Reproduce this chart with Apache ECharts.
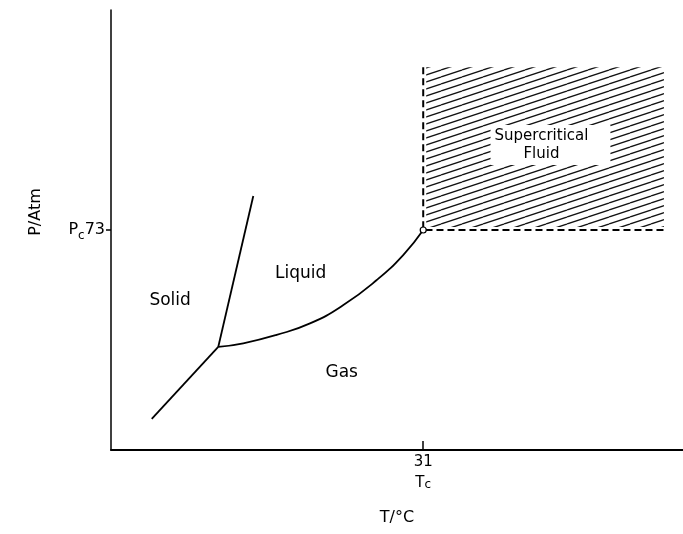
<!DOCTYPE html>
<html>
<head>
<meta charset="utf-8">
<script src="https://cdn.jsdelivr.net/npm/echarts@6.0.0/dist/echarts.min.js"></script>
<style>
html,body{margin:0;padding:0;background:#fff;}
#chart{width:683px;height:534px;}
</style>
</head>
<body>
<div id="chart"></div>
<script>
// ---- data (T in °C, P in atm, schematic) ----
const sublimationT = [-82.9, -55.0];
const sublimationP = [10.3, 34.2];
const meltingT = [-55.0, -40.3];
const meltingP = [34.2, 84.3];
const vaporT = [-55.0, -44.5, -30.5, -16.5, -2.5, 11.5, 22.6, 31];
const vaporP = [34.2, 35.4, 38.2, 42.0, 48.1, 56.4, 64.7, 73];
const criticalT = [31];
const criticalP = [73];
const supercritT = [31, 132];
const supercritP = [73, 127];
const regionNames = ['Solid', 'Liquid', 'Gas', 'Supercritical\nFluid'];
const regionT = [-75.2, -20.4, -3.2, 84.4];
const regionP = [49.5, 58.6, 25.6, 101.2];
const xTickValues = [31];
const xTickLabels = ['31'];
const xTickSymbols = [['T', 'c']];
const yTickValues = [73];
const yTickLabels = ['73'];
const yTickSymbols = [['P', 'c']];
const xName = 'T/°C';
const yName = 'P/Atm';

const zip = (a, b) => a.map((v, i) => [v, b[i]]);

// hatch pattern tile
const tile = document.createElement('canvas');
tile.width = 21; tile.height = 7;
(function(){
  const ctx = tile.getContext('2d');
  ctx.strokeStyle = '#111';
  ctx.lineWidth = 1.3;
  [-7, 0, 7].forEach(off => {
    ctx.beginPath();
    ctx.moveTo(0, 7 + off);
    ctx.lineTo(21, 0 + off);
    ctx.stroke();
  });
})();

const FONT = 'DejaVu Sans';
const chart = echarts.init(document.getElementById('chart'), null, {renderer: 'canvas'});

const lineStyleBase = {color: '#000', width: 1.8};

chart.setOption({
  animation: false,
  backgroundColor: '#fff',
  textStyle: {fontFamily: FONT, color: '#000'},
  grid: {left: 111, right: 0, top: 10, bottom: 84},
  xAxis: {
    type: 'value', min: -100, max: 140,
    splitLine: {show: false},
    axisLine: {onZero: false, lineStyle: {color: '#000', width: 2}},
    axisTick: {inside: true, length: 9, customValues: xTickValues, lineStyle: {color: '#000', width: 1.5}},
    axisLabel: {
      customValues: xTickValues, margin: 4, color: '#000', fontFamily: FONT,
      formatter: v => {
        const i = xTickValues.indexOf(v);
        return '{n|' + xTickLabels[i] + '}\n{t|' + xTickSymbols[i][0] + '}{s|' + xTickSymbols[i][1] + '}';
      },
      rich: {
        n: {fontSize: 15, lineHeight: 17, fontFamily: FONT, color: '#000'},
        t: {fontSize: 15, lineHeight: 20, fontFamily: FONT, color: '#000', verticalAlign: 'bottom'},
        s: {fontSize: 12, lineHeight: 20, fontFamily: FONT, color: '#000', verticalAlign: 'bottom', padding: [8, 0, 0, 0]}
      }
    },
    name: xName, nameLocation: 'middle', nameGap: 60,
    nameTextStyle: {fontSize: 16, fontFamily: FONT, color: '#000'}
  },
  yAxis: {
    type: 'value', min: 0, max: 146,
    splitLine: {show: false},
    axisLine: {onZero: false, lineStyle: {color: '#000', width: 1.5}},
    axisTick: {inside: false, length: 5, customValues: yTickValues, lineStyle: {color: '#000', width: 1.5}},
    axisLabel: {
      customValues: yTickValues, margin: 6, color: '#000', fontFamily: FONT,
      formatter: v => {
        const i = yTickValues.indexOf(v);
        return '{t|' + yTickSymbols[i][0] + '}{s|' + yTickSymbols[i][1] + '}{n|' + yTickLabels[i] + '}';
      },
      rich: {
        n: {fontSize: 16, fontFamily: FONT, color: '#000'},
        t: {fontSize: 16, fontFamily: FONT, color: '#000'},
        s: {fontSize: 12, fontFamily: FONT, color: '#000', padding: [12, 0, 0, 0]}
      }
    },
    name: yName, nameLocation: 'middle', nameGap: 67, nameRotate: 90,
    nameTextStyle: {fontSize: 16, fontFamily: FONT, color: '#000', padding: [0, 0, 0, 36]}
  },
  series: [
    {
      type: 'custom', z: 1, silent: true,
      data: [[supercritT[0], supercritP[0], supercritT[1], supercritP[1]]],
      encode: {x: [0, 2], y: [1, 3]},
      renderItem: (params, api) => {
        const a = api.coord([api.value(0), api.value(3)]);
        const b = api.coord([api.value(2), api.value(1)]);
        return {
          type: 'rect',
          shape: {x: a[0] + 3, y: a[1], width: b[0] - a[0] - 3, height: b[1] - a[1] - 3},
          style: {fill: {image: tile, repeat: 'repeat'}}
        };
      }
    },
    {
      type: 'line', z: 2, symbol: 'none', silent: true,
      data: [[supercritT[0], supercritP[1]], [supercritT[0], supercritP[0]], [supercritT[1], supercritP[0]]],
      lineStyle: {color: '#000', width: 2, type: [7, 4]}
    },
    {
      type: 'line', z: 3, symbol: 'none', silent: true,
      data: zip(sublimationT, sublimationP), lineStyle: lineStyleBase
    },
    {
      type: 'line', z: 3, symbol: 'none', silent: true,
      data: zip(meltingT, meltingP), lineStyle: lineStyleBase
    },
    {
      type: 'line', z: 3, symbol: 'none', silent: true, smooth: true,
      data: zip(vaporT, vaporP), lineStyle: lineStyleBase
    },
    {
      type: 'scatter', z: 4, silent: true, symbol: 'circle', symbolSize: 6,
      data: zip(criticalT, criticalP),
      itemStyle: {color: '#fff', borderColor: '#000', borderWidth: 1.2, opacity: 1}
    },
    {
      type: 'scatter', z: 5, silent: true, symbolSize: 0,
      itemStyle: {opacity: 1},
      data: regionNames.map((n, i) => {
        const item = {name: n, value: [regionT[i], regionP[i]]};
        if (n.indexOf('\n') >= 0) {
          item.label = {fontSize: 15, lineHeight: 18, backgroundColor: '#fff', padding: [4, 22, 0, 4]};
        }
        return item;
      }),
      label: {
        show: true, position: 'inside', formatter: p => p.name, opacity: 1,
        fontSize: 17, fontFamily: FONT, color: '#000', align: 'center', verticalAlign: 'middle'
      }
    }
  ]
});
</script>
</body>
</html>
